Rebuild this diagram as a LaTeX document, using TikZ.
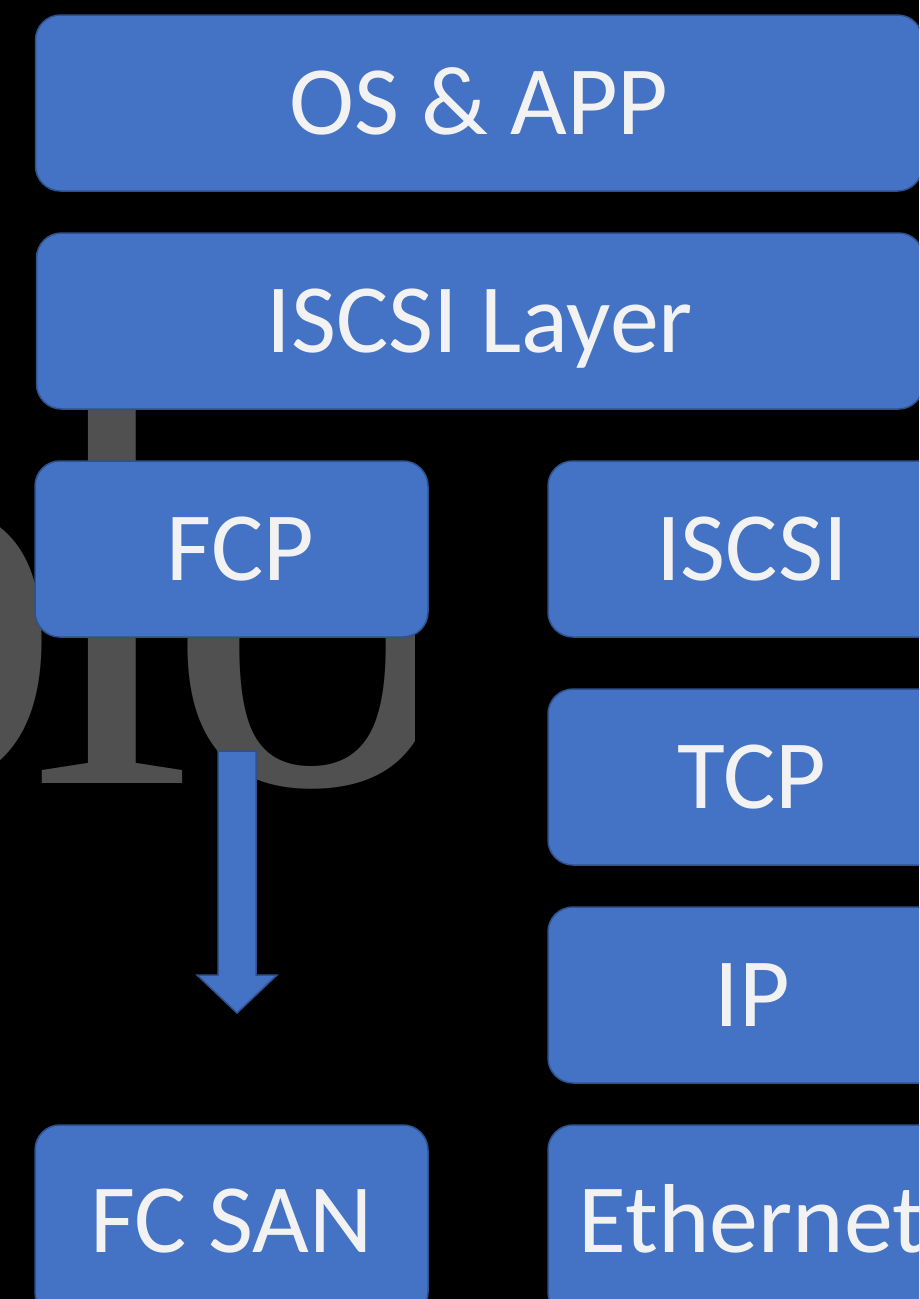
\documentclass[tikz,border=0pt]{standalone}
\usepackage{fontspec}
\setmainfont{Carlito}
\newfontfamily\wmfont{Liberation Serif}
\definecolor{boxfill}{HTML}{4472C4}
\definecolor{boxline}{HTML}{2F528F}
\definecolor{boxtext}{HTML}{F2F2F2}
\definecolor{wmgrey}{HTML}{505050}
\tikzset{
  layerbox/.style={draw=boxline, line width=1.5pt, fill=boxfill, rounded corners=25pt,
    text=boxtext, font=\fontsize{98pt}{98pt}\selectfont, inner sep=0pt,
    text height=62pt, text depth=0pt, minimum height=176pt},
  widebox/.style={layerbox, minimum width=887pt},
  colbox/.style={layerbox, minimum width=393pt},
  rcolbox/.style={layerbox, minimum width=408pt},
  wmletter/.style={text=wmgrey, inner sep=0pt, anchor=base west,
    font=\wmfont\fontsize{590pt}{590pt}\selectfont},
  blockarrow/.style={fill=boxfill, draw=boxline, line width=1.5pt, line join=miter}
}
\begin{document}
\begin{tikzpicture}[x=1pt, y=-1pt]
  \useasboundingbox (0,0) rectangle (919,1299);
  \clip (0,0) rectangle (919,1299);
  \fill[black] (0,0) rectangle (919,1299);
  % watermark
  \begin{scope}
    \clip (0,0) rectangle (414,1299);
    \node[wmletter] (wmb) at (-231,783) {b};
    \node[wmletter] (wml) at (30,783) {l};
    \node[wmletter] (wmo) at (165,783) {o};
  \end{scope}
  % layers
  \node[widebox] (osapp) at (479,103) {OS \& APP};
  \node[widebox] (iscsilayer) at (480,321) {ISCSI Layer};
  \node[colbox] (fcp) at (231.5,549) {\hspace*{18pt}FCP};
  \node[rcolbox] (iscsi) at (752,549) {ISCSI};
  \node[rcolbox] (tcp) at (752,777) {TCP};
  \node[rcolbox] (ip) at (752,995) {IP};
  \node[colbox, minimum height=192pt] (fcsan) at (231.5,1221) {FC SAN};
  \node[rcolbox, minimum height=192pt] (ethernet) at (752,1221) {Ethernet};
  % block arrow from FCP towards FC SAN
  \coordinate (arrtop) at (237,751);
  \coordinate (arrtip) at (237,1013);
  \path[blockarrow] ([xshift=-19pt]arrtop) -- ([xshift=19pt]arrtop)
    -- ([xshift=19pt,yshift=38pt]arrtip) -- ([xshift=40pt,yshift=38pt]arrtip)
    -- (arrtip)
    -- ([xshift=-40pt,yshift=38pt]arrtip) -- ([xshift=-19pt,yshift=38pt]arrtip) -- cycle;
\end{tikzpicture}
\end{document}
